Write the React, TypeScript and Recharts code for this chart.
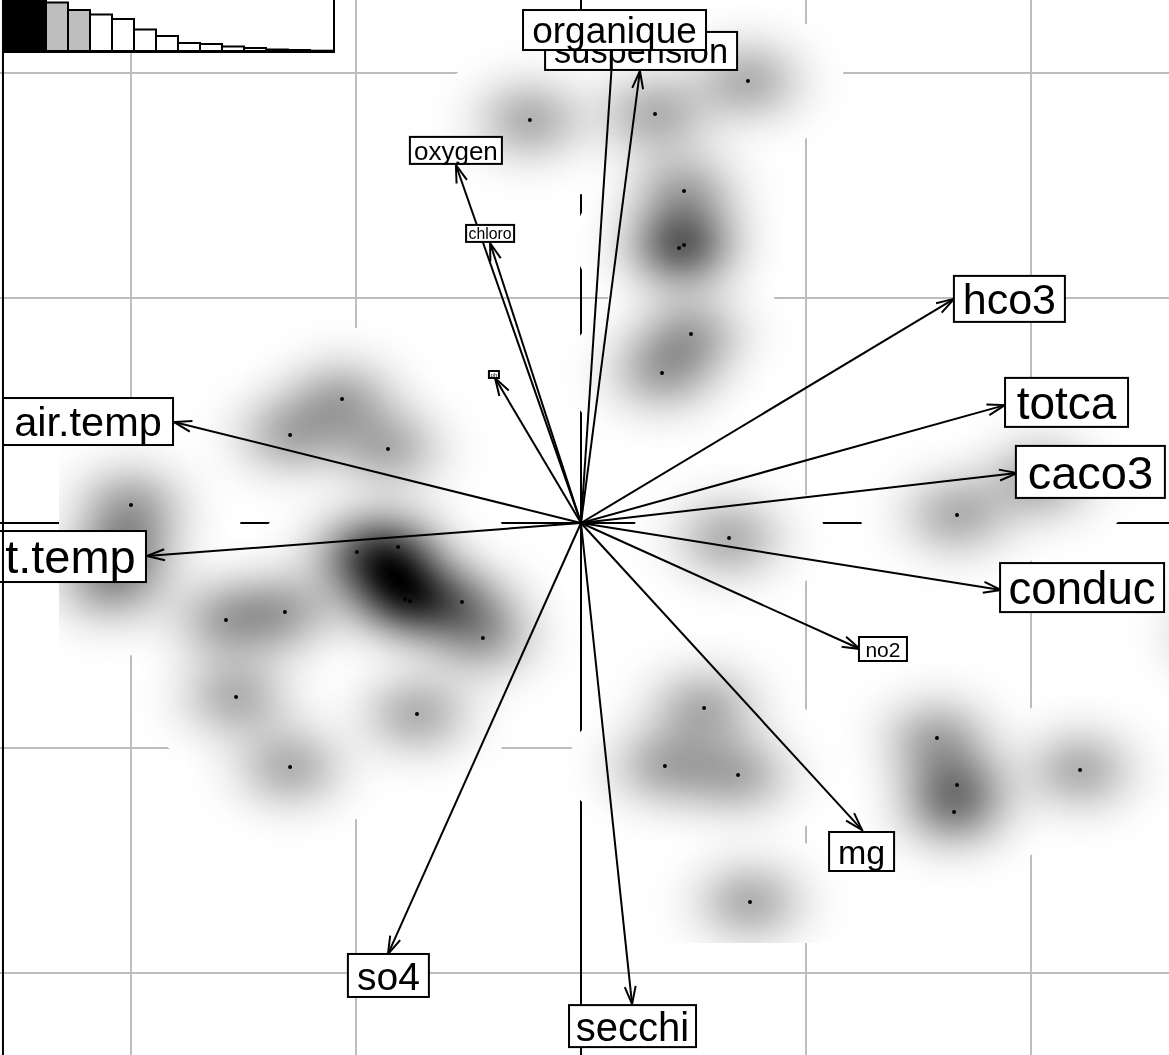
import { Bar, BarChart, Cell, ReferenceLine, Scatter, ScatterChart, XAxis, YAxis } from 'recharts'

// site scores, in grid units (d = 1)
const siteX = [0.742, 0.329, -0.227, 0.458, 0.436, 0.458, 0.489, 0.36, -1.062, -1.293, -0.858, -2, 1.671, 0.658, -0.813, -0.996, -0.782, -0.76, -0.529, -1.316, -1.578, -0.436, -1.533, -0.729, 0.547, 1.582, 2.218, 0.373, -1.293, 0.698, 1.671, 1.658, 0.751]
const siteY = [1.964, 1.818, 1.791, 1.476, 1.222, 1.236, 0.84, 0.667, 0.551, 0.391, 0.329, 0.08, 0.036, -0.067, -0.107, -0.129, -0.338, -0.347, -0.351, -0.396, -0.431, -0.511, -0.773, -0.849, -0.822, -0.956, -1.098, -1.08, -1.084, -1.12, -1.164, -1.284, -1.684]
// sites that only show through the density: under labels or past the edge
const hiddenX = [-2.093, -2.027, 2.04, 2.88]
const hiddenY = [-0.276, -0.12, 0.191, -0.498]
// where neighbouring kernels add up: a wider mask, and the darkest spot
const maskExtraX = [0.396, -0.116, -1.938, -0.76, 0.729, 1.418]
const maskExtraY = [1.253, 1.769, 0.036, -0.098, -1.076, -0.987]
const darkExtraX = [-0.871]
const darkExtraY = [-0.209]

const varNames = ['air.temp', 't.temp', 'oxygen', 'chloro', 'ph', 'suspension', 'organique', 'hco3', 'totca', 'caco3', 'conduc', 'no2', 'mg', 'secchi', 'so4']
const tipX = [-1.809, -1.929, -0.556, -0.404, -0.382, 0.262, 0.142, 1.658, 1.884, 1.938, 1.867, 1.24, 1.249, 0.227, -0.858]
const tipY = [0.449, -0.147, 1.591, 1.244, 0.644, 2.009, 2.111, 0.996, 0.524, 0.222, -0.298, -0.56, -1.364, -2.138, -1.916]
const labelX = [-2.191, -2.269, -0.556, -0.404, -0.387, 0.267, 0.149, 1.904, 2.158, 2.264, 2.227, 1.342, 1.247, 0.229, -0.856]
const labelY = [0.451, -0.149, 1.656, 1.287, 0.66, 2.098, 2.191, 0.996, 0.536, 0.227, -0.287, -0.56, -1.46, -2.236, -2.011]

const gridTicks = [-2, -1, 1, 2]
const eigenvalues = [70, 62, 48.5, 41, 36.5, 32, 21.5, 15, 8, 7, 4.5, 3, 1.5, 1, 0.3]

// label box [width, height, font size]
const LABEL_BOX: Record<string, number[]> = {
  'air.temp': [170, 47, 41.5],
  't.temp': [151, 51, 47],
  oxygen: [92, 27, 26],
  chloro: [48, 17, 15.8],
  ph: [10, 7, 6],
  suspension: [192, 38, 34.4],
  organique: [183, 40, 37],
  hco3: [111, 46, 43],
  totca: [123, 49, 46],
  caco3: [149, 52, 47],
  conduc: [164, 49, 45.6],
  no2: [48, 24, 21],
  mg: [65, 39, 34],
  secchi: [127, 42, 40],
  so4: [81, 43, 39],
}

const WIDTH = 1169
const HEIGHT = 1055
const UNIT = 225
const X_DOMAIN = [-581 / UNIT, (WIDTH - 581) / UNIT]
const Y_DOMAIN = [(523 - HEIGHT) / UNIT, 523 / UNIT]
const FRAME_X = -2.569
const GRID_GREY = '#bebebe'
const KDE_PEAK = 0.3

const toPoints = (xs: number[], ys: number[]) => xs.map((x, i) => ({ x, y: ys[i] }))
const sites = toPoints(siteX, siteY)
const hidden = toPoints(hiddenX, hiddenY)
const maskPoints = [...sites, ...hidden, ...toPoints(maskExtraX, maskExtraY)]
const darkPoints = [...sites, ...hidden, ...toPoints(darkExtraX, darkExtraY)]
const tips = varNames.map((name, i) => ({ name, x: tipX[i], y: tipY[i] }))
const labels = varNames.map((name, i) => ({ name, x: labelX[i], y: labelY[i] }))
const frameLine = [{ x: FRAME_X, y: Y_DOMAIN[0] }, { x: FRAME_X, y: Y_DOMAIN[1] }]
const bars = eigenvalues.map((value, i) => ({ rank: i + 1, value }))

const gaussStops = [0, 0.1, 0.2, 0.3, 0.4, 0.5, 0.6, 0.7, 0.8, 0.9, 1].map((t) => ({
  t,
  a: KDE_PEAK * (Math.exp(-4.5 * t * t) - Math.exp(-4.5)) / (1 - Math.exp(-4.5)),
}))

function MaskShape({ cx, cy }: any) {
  return <ellipse cx={cx} cy={cy} rx={96} ry={72} fill="#fff" />
}

function DarkShape({ cx, cy }: any) {
  return <ellipse cx={cx} cy={cy} rx={108} ry={85} fill="url(#kdeGrad)" style={{ mixBlendMode: 'plus-lighter' }} />
}

function DotShape({ cx, cy }: any) {
  return <circle cx={cx} cy={cy} r={2} fill="#000" />
}

function ArrowShape({ cx, cy, payload }: any) {
  const angle = Math.atan2(-payload.y, payload.x)
  const arm = 18.5
  const spread = 0.3
  const ax = cx - arm * Math.cos(angle - spread)
  const ay = cy - arm * Math.sin(angle - spread)
  const bx = cx - arm * Math.cos(angle + spread)
  const by = cy - arm * Math.sin(angle + spread)
  return (
    <g fill="none" stroke="#000" strokeWidth={2}>
      <line x1={cx - payload.x * UNIT} y1={cy + payload.y * UNIT} x2={cx} y2={cy} />
      <path d={`M${ax},${ay}L${cx},${cy}L${bx},${by}`} />
    </g>
  )
}

function LabelShape({ cx, cy, payload }: any) {
  const [w, h, size] = LABEL_BOX[payload.name]
  return (
    <g>
      <rect x={cx - w / 2} y={cy - h / 2} width={w} height={h} fill="#fff" stroke="#000" strokeWidth={2} />
      <text x={cx} y={cy + size * 0.36} textAnchor="middle" fontSize={size} fill="#000">
        {payload.name}
      </text>
    </g>
  )
}

const NoShape = () => <g />

function EigenInset() {
  return (
    <div style={{ position: 'absolute', left: 2, top: 0, width: 331, height: 51, background: '#fff', borderRight: '2px solid #000', borderBottom: '2px solid #000' }}>
      <BarChart width={331} height={51} data={bars} margin={{ top: 0, right: 1, bottom: 0, left: 0 }} barCategoryGap={0}>
        <XAxis dataKey="rank" hide />
        <YAxis hide domain={[0, 51]} allowDataOverflow />
        <Bar dataKey="value" stroke="#000" strokeWidth={2} isAnimationActive={false}>
          {bars.map((d, i) => (
            <Cell key={i} fill={i < 2 ? '#000' : i < 4 ? GRID_GREY : '#fff'} />
          ))}
        </Bar>
      </BarChart>
    </div>
  )
}

export default function App() {
  return (
    <div style={{ position: 'absolute', left: 0, top: 0, width: WIDTH, height: HEIGHT, overflow: 'hidden', background: '#fff', fontFamily: '"Liberation Sans", Arial, sans-serif' }}>
      <style>{`.kde-mask{clip-path:url(#kdeClip)} .kde-dark{clip-path:url(#kdeClip);isolation:isolate}`}</style>
      <svg width={0} height={0} style={{ position: 'absolute' }}>
        <defs>
          <radialGradient id="kdeGrad">
            {gaussStops.map((s) => (
              <stop key={s.t} offset={s.t} stopColor="#000" stopOpacity={s.a} />
            ))}
          </radialGradient>
          <clipPath id="kdeClip" clipPathUnits="userSpaceOnUse">
            <rect x={59} y={5} width={WIDTH - 59} height={938} />
          </clipPath>
        </defs>
      </svg>
      <ScatterChart width={WIDTH} height={HEIGHT} margin={{ top: 0, right: 0, bottom: 0, left: 0 }}>
        <XAxis type="number" dataKey="x" domain={X_DOMAIN} allowDataOverflow hide />
        <YAxis type="number" dataKey="y" domain={Y_DOMAIN} allowDataOverflow hide />
        {gridTicks.map((t) => (
          <ReferenceLine key={`gx${t}`} x={t} stroke={GRID_GREY} strokeWidth={2} />
        ))}
        {gridTicks.map((t) => (
          <ReferenceLine key={`gy${t}`} y={t} stroke={GRID_GREY} strokeWidth={2} />
        ))}
        <ReferenceLine x={0} stroke="#000" strokeWidth={2} />
        <ReferenceLine y={0} stroke="#000" strokeWidth={2} />
        <Scatter className="kde-mask" data={maskPoints} shape={MaskShape} isAnimationActive={false} />
        <Scatter className="kde-dark" data={darkPoints} shape={DarkShape} isAnimationActive={false} />
        <Scatter data={sites} shape={DotShape} isAnimationActive={false} />
        <Scatter data={tips} shape={ArrowShape} isAnimationActive={false} />
        <Scatter data={labels} shape={LabelShape} isAnimationActive={false} />
        <Scatter data={frameLine} line={{ stroke: '#000', strokeWidth: 2 }} shape={NoShape} isAnimationActive={false} />
      </ScatterChart>
      <EigenInset />
    </div>
  )
}
